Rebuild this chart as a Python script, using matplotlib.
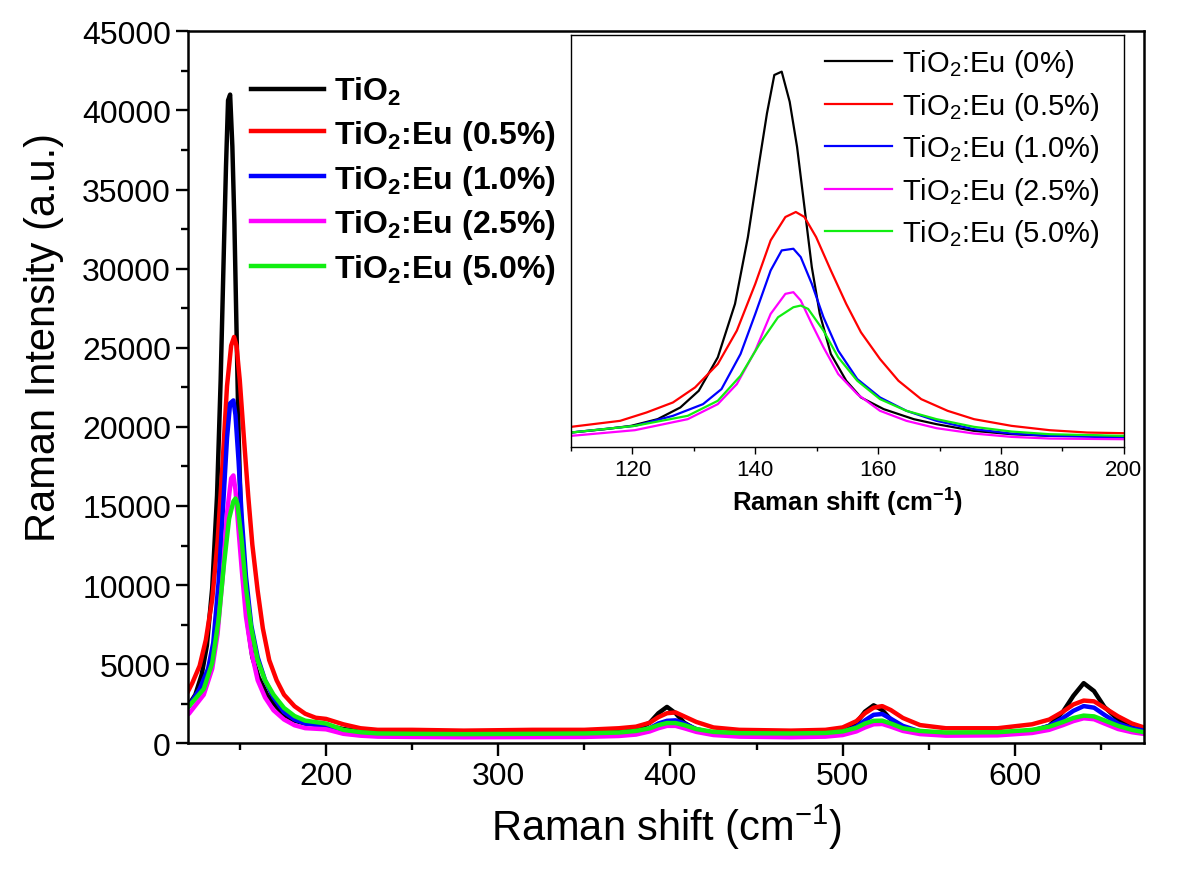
import matplotlib.pyplot as plt

plt.rcParams['font.family'] = ['Liberation Sans', 'DejaVu Sans']
plt.rcParams['mathtext.fontset'] = 'custom'
plt.rcParams['mathtext.rm'] = 'Liberation Sans'
plt.rcParams['mathtext.it'] = 'Liberation Sans:italic'
plt.rcParams['mathtext.bf'] = 'Liberation Sans:bold'

# --- E_g(1) peak region, 110-200 cm-1 ---
x_0 = [110, 115.5, 119.8, 124.1, 127.8, 130.8, 133.9, 136.7, 138.8, 140.7, 141.9, 143.1, 144.3,
       145.6, 146.8, 148.0, 149.2, 150.5, 152.3, 154.8, 157.2, 160.9, 165.8, 169.5, 175.6, 181.7,
       187.9, 194.0, 200]
y_0 = [1613, 1977, 2342, 3071, 4348, 6171, 9818, 15653, 22948, 31336, 36441, 40635, 41000,
       37718, 32794, 26230, 19665, 14559, 10183, 7265, 5442, 4166, 3071, 2524, 1794, 1430,
       1248, 1300, 1138]

x_05 = [110, 118.0, 122.3, 126.6, 130.2, 133.9, 137.0, 140.0, 142.5, 144.9, 146.6, 148.0, 149.9,
        152.3, 154.8, 157.2, 160.3, 163.3, 167.0, 171.3, 175.6, 181.7, 187.9, 194.0, 200]
y_05 = [2232, 2889, 3801, 4895, 6536, 9089, 12736, 17842, 22583, 25136, 25683, 25136, 22948,
        19300, 15653, 12553, 9636, 7265, 5259, 3983, 3071, 2342, 1868, 1613, 1540]

x_10 = [110, 120.4, 126.6, 131.5, 134.5, 137.6, 140.0, 142.5, 144.3, 146.2, 147.4, 149.2, 151.1,
        153.5, 156.6, 160.3, 164.6, 169.5, 175.6, 181.7, 187.9, 200]
y_10 = [1613, 2342, 3436, 4713, 6354, 10183, 14559, 19300, 21489, 21671, 20759, 17842, 14194,
        10547, 7447, 5442, 3983, 2889, 1977, 1503, 1248, 1065]

x_25 = [110, 120.4, 129.0, 133.9, 137.0, 140.0, 142.5, 144.9, 146.2, 147.4, 149.2, 151.1, 153.5,
        156.6, 160.3, 164.6, 169.5, 175.6, 181.7, 187.9, 200]
y_25 = [1248, 1868, 3071, 4713, 6901, 10547, 14559, 16748, 16930, 16018, 13466, 10913, 7995,
        5807, 3983, 2889, 2087, 1503, 1138, 956, 883]

x_50 = [110, 120.4, 129.0, 133.9, 137.6, 140.7, 143.7, 146.2, 147.4, 148.6, 151.1, 153.5, 156.6,
        160.3, 164.6, 169.5, 175.6, 181.7, 187.9, 200]
y_50 = [1613, 2342, 3436, 5077, 7812, 11277, 14194, 15288, 15471, 15106, 12736, 9818, 7265,
        5259, 3983, 3071, 2232, 1722, 1430, 1248]

# --- 200-675 cm-1 ---
tail_x = [210, 220, 230, 250, 280, 320, 350, 370, 380, 388, 393, 398, 403, 408, 415, 425, 440,
          470, 490, 500, 508, 513, 518, 523, 528, 535, 545, 560, 590, 610, 620, 628, 634, 640,
          646, 652, 660, 668, 675]
tail_0 = [900, 750, 650, 600, 580, 600, 620, 700, 850, 1300, 1900, 2300, 1900, 1300, 850, 650,
          550, 520, 600, 800, 1300, 2000, 2400, 2100, 1500, 950, 700, 600, 620, 750, 1100, 2000,
          3000, 3800, 3300, 2300, 1500, 1050, 900]
tail_05 = [1200, 950, 850, 850, 800, 850, 850, 950, 1050, 1300, 1650, 1900, 1950, 1700, 1350,
           1000, 850, 800, 850, 1000, 1400, 1900, 2250, 2350, 2100, 1600, 1150, 950, 950, 1200,
           1500, 2000, 2450, 2700, 2650, 2250, 1700, 1250, 1000]
tail_10 = [750, 600, 520, 500, 480, 500, 520, 600, 700, 950, 1250, 1420, 1450, 1250, 900, 650,
           550, 520, 560, 700, 1050, 1450, 1800, 1850, 1550, 1100, 750, 600, 620, 800, 1100,
           1600, 2050, 2350, 2250, 1800, 1250, 950, 800]
tail_25 = [600, 480, 420, 400, 380, 390, 400, 460, 550, 750, 950, 1100, 1100, 950, 720, 520, 420,
           380, 420, 520, 750, 1000, 1200, 1220, 1050, 780, 580, 480, 500, 650, 850, 1150, 1400,
           1580, 1520, 1250, 900, 700, 590]
tail_50 = [850, 700, 620, 600, 580, 600, 620, 680, 780, 950, 1150, 1280, 1280, 1150, 900, 720,
           640, 620, 650, 750, 980, 1250, 1420, 1430, 1250, 950, 780, 680, 700, 850, 1050, 1350,
           1600, 1750, 1700, 1450, 1100, 850, 700]

colors = ['black', '#ff0000', '#0000ff', '#ff00ff', '#11ee11']
main_labels = [r'TiO$_\mathbf{2}$', r'TiO$_\mathbf{2}$:Eu (0.5%)', r'TiO$_\mathbf{2}$:Eu (1.0%)',
               r'TiO$_\mathbf{2}$:Eu (2.5%)', r'TiO$_\mathbf{2}$:Eu (5.0%)']
inset_labels = [r'TiO$_2$:Eu (0%)', r'TiO$_2$:Eu (0.5%)', r'TiO$_2$:Eu (1.0%)',
                r'TiO$_2$:Eu (2.5%)', r'TiO$_2$:Eu (5.0%)']

series = [(x_0 + tail_x, y_0 + tail_0), (x_05 + tail_x, y_05 + tail_05),
          (x_10 + tail_x, y_10 + tail_10), (x_25 + tail_x, y_25 + tail_25),
          (x_50 + tail_x, y_50 + tail_50)]

fig = plt.figure(figsize=(12, 8.78), dpi=100)
ax = fig.add_axes([0.1569, 0.1523, 0.7964, 0.8109])

for (x, y), c, lab in zip(series, colors, main_labels):
    ax.plot(x, y, color=c, lw=3.2, label=lab)

ax.set_xlim(120, 675)
ax.set_ylim(0, 45000)
ax.set_xticks([200, 300, 400, 500, 600])
ax.set_xticks([150, 250, 350, 450, 550, 650], minor=True)
ax.set_yticks(range(0, 45001, 5000))
ax.set_yticks(range(2500, 45000, 5000), minor=True)
ax.tick_params(which='both', direction='out', width=1.7, labelsize=23, top=False, right=False)
ax.tick_params(which='major', length=9)
ax.tick_params(which='minor', length=5)
for s in ax.spines.values():
    s.set_linewidth(1.8)
ax.set_xlabel('Raman shift (cm$^{-1}$)', fontsize=30, labelpad=8)
ax.set_ylabel('Raman Intensity (a.u.)', fontsize=30)
ax.yaxis.set_label_coords(-0.13, 0.572)

ax.legend(loc='upper left', bbox_to_anchor=(0.052, 0.957), borderaxespad=0, frameon=False,
          prop={'size': 23, 'weight': 'bold'}, handlelength=2.3, handletextpad=0.3,
          labelspacing=0.34)

# inset zoom on the 144 cm-1 mode
ins = fig.add_axes([0.4758, 0.4894, 0.4608, 0.4696])
for (x, y), c, lab in zip(series, colors, inset_labels):
    ins.plot(x, y, color=c, lw=1.6, label=lab)
ins.set_xlim(110, 200)
ins.set_ylim(0, 45000)
ins.set_xticks([120, 140, 160, 180, 200])
ins.set_xticks([110, 130, 150, 170, 190], minor=True)
ins.set_yticks([])
ins.tick_params(which='both', direction='out', width=1, labelsize=16)
ins.tick_params(which='major', length=5)
ins.tick_params(which='minor', length=3)
for s in ins.spines.values():
    s.set_linewidth(1)
ins.set_xlabel(r'Raman shift (cm$^\mathbf{-1}$)', fontsize=18.5, fontweight='bold', labelpad=4)
ins.legend(loc='upper left', bbox_to_anchor=(0.438, 0.998), borderaxespad=0, frameon=False,
           fontsize=21, handlelength=2.3, handletextpad=0.35, labelspacing=0.36)

fig.savefig('out.png', dpi=100)
